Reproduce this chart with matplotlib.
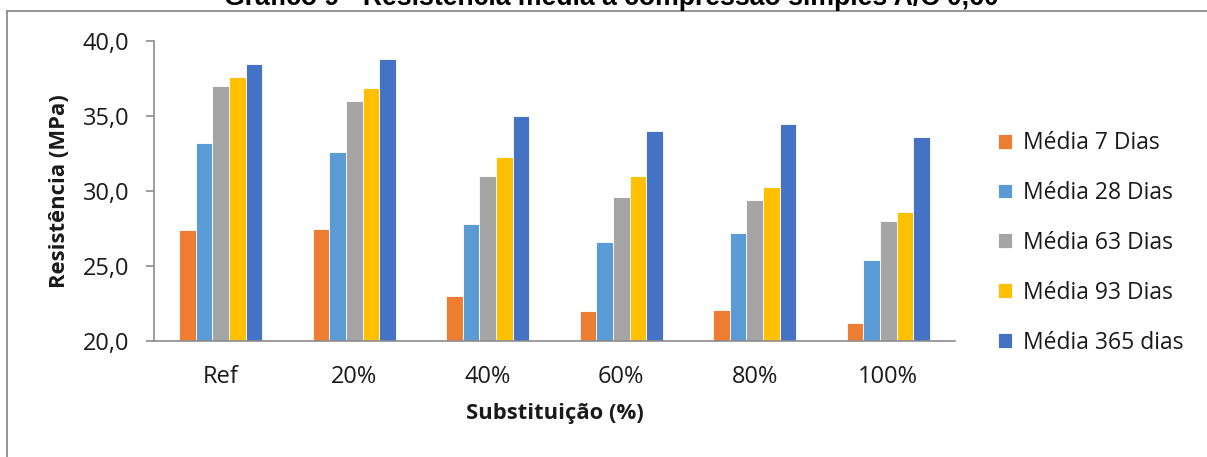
import matplotlib
matplotlib.use("Agg")
import matplotlib.pyplot as plt
import numpy as np
from matplotlib.lines import Line2D

plt.rcParams['font.family'] = ['Open Sans', 'DejaVu Sans']

categories = ["Ref", "20%", "40%", "60%", "80%", "100%"]
series_names = ["Média 7 Dias", "Média 28 Dias", "Média 63 Dias", "Média 93 Dias", "Média 365 dias"]
media_7 = [27.4, 27.5, 23.0, 22.0, 22.1, 21.2]
media_28 = [33.2, 32.6, 27.8, 26.6, 27.2, 25.4]
media_63 = [37.0, 36.0, 31.0, 29.6, 29.4, 28.0]
media_93 = [37.6, 36.9, 32.3, 31.0, 30.3, 28.6]
media_365 = [38.5, 38.8, 35.0, 34.0, 34.5, 33.6]
yticks = [20.0, 25.0, 30.0, 35.0, 40.0]

series = [media_7, media_28, media_63, media_93, media_365]
colors = ["#ED7D31", "#5B9BD5", "#A5A5A5", "#FFC000", "#4472C4"]

W, H = 1207, 457
fig = plt.figure(figsize=(W / 100, H / 100), dpi=100)
ax = fig.add_axes([154 / W, 1 - 341 / H, 801 / W, 300 / H])

x = np.arange(len(categories))
bw = 0.125
base = yticks[0]
for i, (vals, col, name) in enumerate(zip(series, colors, series_names)):
    ax.bar(x + (i - 2) * bw, np.array(vals) - base, bw, bottom=base,
           color=col, edgecolor="white", linewidth=0.6, label=name, zorder=2)

ax.set_xlim(-0.5, len(categories) - 0.5)
ax.set_ylim(20, 40)
ax.set_yticks(yticks)
ax.set_yticklabels([f"{v:.1f}".replace(".", ",") for v in yticks])
ax.set_xticks(x)
ax.set_xticklabels(categories)

for s in ["top", "right"]:
    ax.spines[s].set_visible(False)
for s in ["left", "bottom"]:
    ax.spines[s].set_color("#8c8c8c")
    ax.spines[s].set_linewidth(1.2)
ax.tick_params(axis="y", length=5.8, width=1.2, color="#8c8c8c", pad=12,
               labelsize=17, labelcolor="#1a1a1a")
ax.tick_params(axis="x", length=0, pad=17, labelsize=17, labelcolor="#1a1a1a")

ax.set_ylabel("Resistência (MPa)", fontsize=15.8, fontweight="bold", color="#1a1a1a")
ax.yaxis.set_label_coords((59 - 154) / 801, 0.5)
ax.set_xlabel("Substituição (%)", fontsize=15.8, fontweight="bold", color="#1a1a1a")
ax.xaxis.set_label_coords(0.5, (341 - 414) / 300)
ax.xaxis.label.set_va("center")
ax.yaxis.label.set_va("center")

leg = fig.legend(loc="upper left", bbox_to_anchor=(989 / W, 1 - 122 / H),
                 frameon=False, fontsize=16.5, handlelength=0.62, handleheight=0.62,
                 handletextpad=0.45, labelspacing=1.13, borderaxespad=0,
                 labelcolor="#1a1a1a")

# chart frame (top and left edges visible)
fig.add_artist(Line2D([7 / W, 7 / W], [0, 1 - 11 / H], transform=fig.transFigure,
                      color="#8c8c8c", linewidth=1.3))
fig.add_artist(Line2D([7 / W, 1.0], [1 - 11 / H, 1 - 11 / H], transform=fig.transFigure,
                      color="#8c8c8c", linewidth=1.3))

fig.text(611 / W, 1 - 5 / H, "Gráfico 9 - Resistência média a compressão simples A/C 0,60",
         ha="center", va="baseline", fontsize=19.2, fontweight="bold",
         family=["Liberation Sans", "DejaVu Sans"], color="#000000")

fig.savefig("out.png", dpi=100)
